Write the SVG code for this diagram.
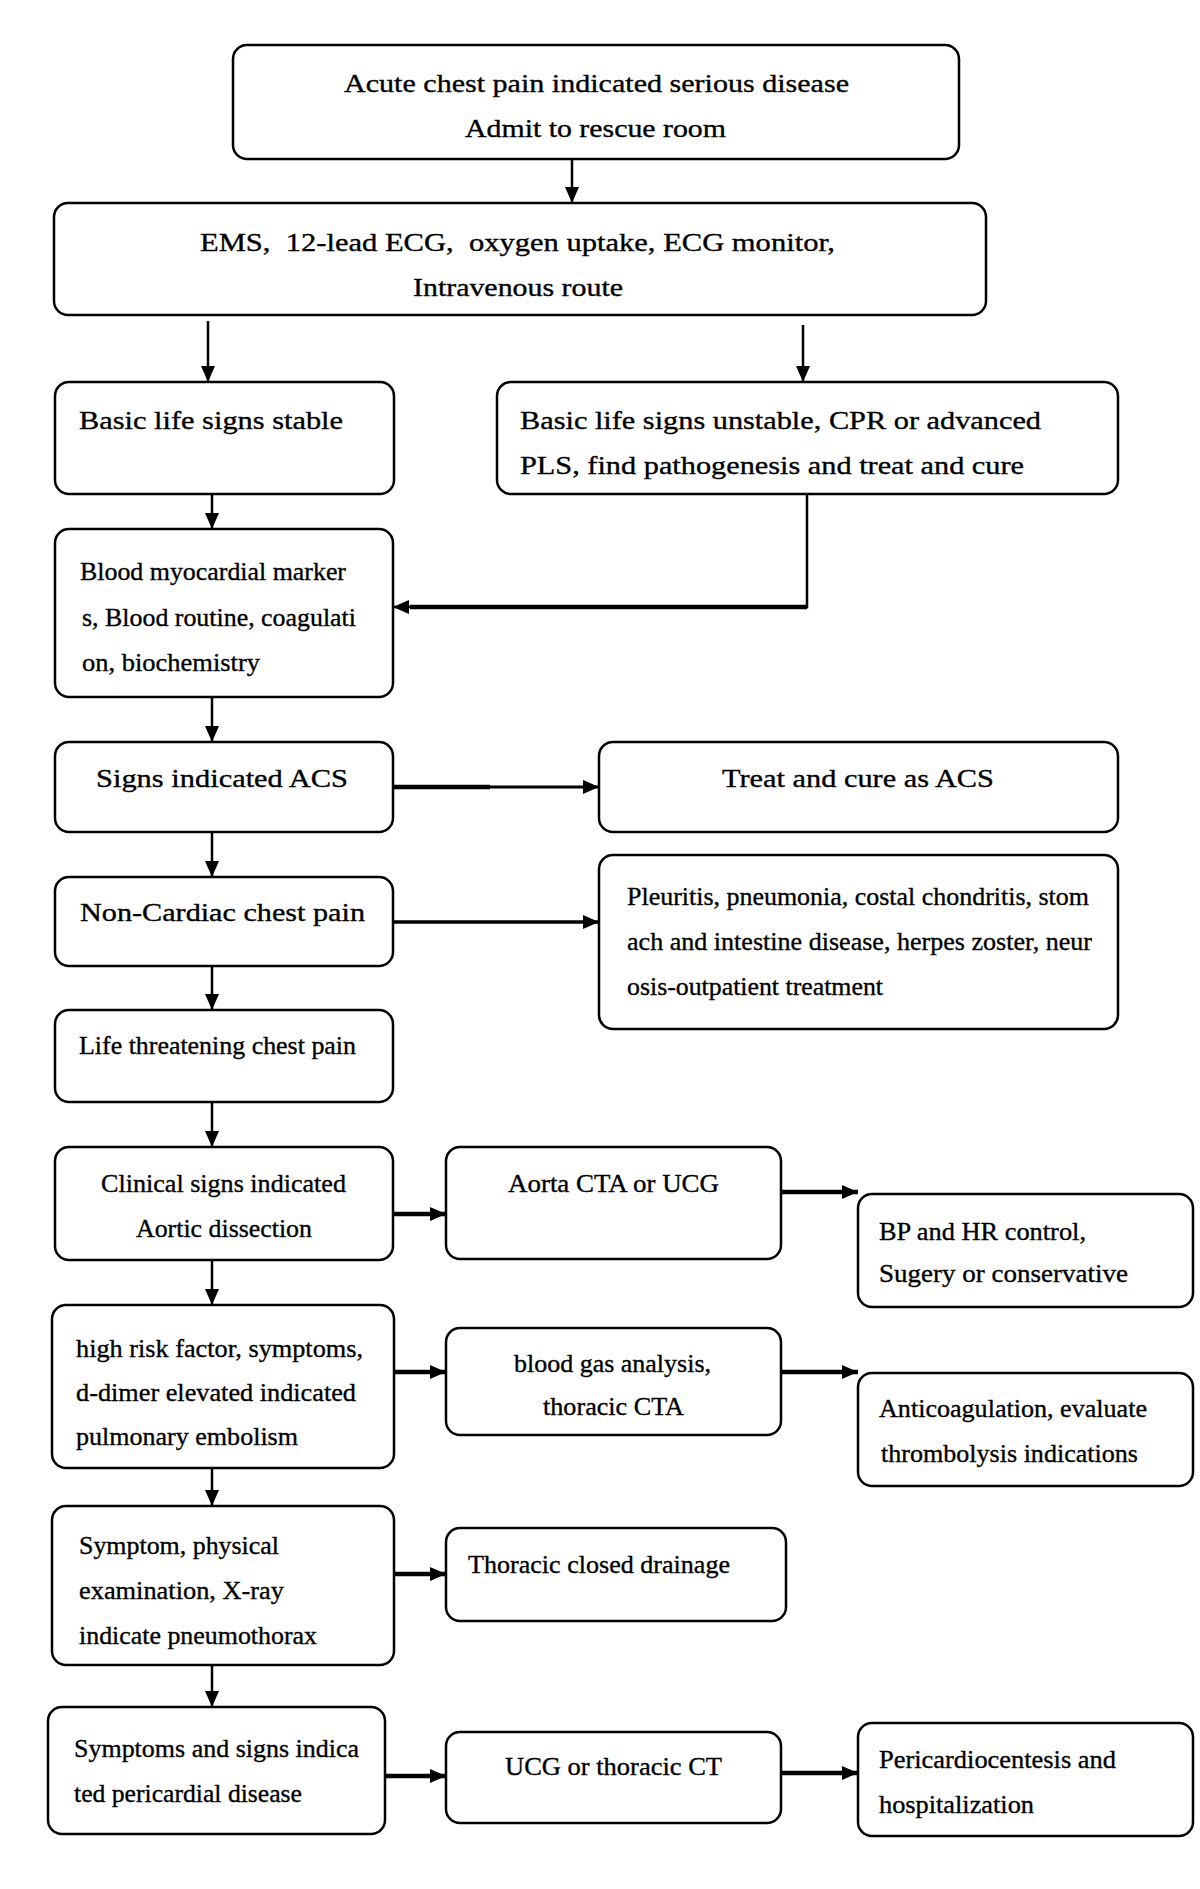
<svg xmlns="http://www.w3.org/2000/svg" width="1200" height="1889" viewBox="0 0 1200 1889">
<style>
.box{fill:#fff;stroke:#000;stroke-width:2.5}
text{font-family:"Liberation Serif","Times New Roman",serif;font-size:26px;fill:#000;stroke:#000;stroke-width:0.35}
.c{text-anchor:middle}
.ln{fill:none;stroke:#000;stroke-width:2.5}
.th{fill:none;stroke:#000;stroke-width:4.5}
</style>
<defs>
<marker id="ah" markerUnits="userSpaceOnUse" markerWidth="16" markerHeight="14" refX="16" refY="7" orient="auto">
<path d="M0,0 L16,7 L0,14 Z" fill="#000"/>
</marker>
</defs>
<rect width="1200" height="1889" fill="#fff"/>
<g id="connectors">
<path class="ln" d="M572,159 V203" marker-end="url(#ah)"/>
<path class="ln" d="M208,321 V382" marker-end="url(#ah)"/>
<path class="ln" d="M803,325 V382" marker-end="url(#ah)"/>
<path class="ln" d="M212,494 V529" marker-end="url(#ah)"/>
<path class="ln" d="M807,494 V607 H393" marker-end="url(#ah)"/>
<path class="th" d="M807,607 H410"/>
<path class="ln" d="M212,697 V742" marker-end="url(#ah)"/>
<path class="th" d="M393,787 H599" marker-end="url(#ah)" style="stroke-width:3"/>
<path class="th" d="M393,787 H490"/>
<path class="ln" d="M212,832 V877" marker-end="url(#ah)"/>
<path class="th" d="M393,922 H599" marker-end="url(#ah)" style="stroke-width:3.5"/>
<path class="ln" d="M212,966 V1010" marker-end="url(#ah)"/>
<path class="ln" d="M212,1102 V1147" marker-end="url(#ah)"/>
<path class="th" d="M393,1214 H446" marker-end="url(#ah)"/>
<path class="th" d="M781,1192 H858" marker-end="url(#ah)"/>
<path class="ln" d="M212,1260 V1305" marker-end="url(#ah)"/>
<path class="th" d="M394,1372 H446" marker-end="url(#ah)"/>
<path class="th" d="M781,1372 H858" marker-end="url(#ah)"/>
<path class="ln" d="M212,1468 V1506" marker-end="url(#ah)"/>
<path class="th" d="M394,1574 H446" marker-end="url(#ah)"/>
<path class="ln" d="M212,1665 V1707" marker-end="url(#ah)"/>
<path class="th" d="M385,1776 H446" marker-end="url(#ah)"/>
<path class="th" d="M781,1773 H858" marker-end="url(#ah)"/>
</g>
<g id="n1"><rect class="box" x="233" y="45" width="726" height="114" rx="14"/>
<text x="344" y="92" textLength="505" lengthAdjust="spacingAndGlyphs">Acute chest pain indicated serious disease</text>
<text x="465" y="137" textLength="261" lengthAdjust="spacingAndGlyphs">Admit to rescue room</text></g>
<g id="n2"><rect class="box" x="54" y="203" width="932" height="112" rx="14"/>
<text x="200" y="251" textLength="635" lengthAdjust="spacingAndGlyphs" xml:space="preserve">EMS,  12-lead ECG,  oxygen uptake, ECG monitor,</text>
<text x="413" y="296" textLength="210" lengthAdjust="spacingAndGlyphs">Intravenous route</text></g>
<g id="n3"><rect class="box" x="55" y="382" width="339" height="112" rx="14"/>
<text x="79" y="429" textLength="264" lengthAdjust="spacingAndGlyphs">Basic life signs stable</text></g>
<g id="n4"><rect class="box" x="497" y="382" width="621" height="112" rx="14"/>
<text x="520" y="429" textLength="521" lengthAdjust="spacingAndGlyphs">Basic life signs unstable, CPR or advanced</text>
<text x="520" y="474" textLength="504" lengthAdjust="spacingAndGlyphs">PLS, find pathogenesis and treat and cure</text></g>
<g id="n5"><rect class="box" x="55" y="529" width="338" height="168" rx="14"/>
<text x="80" y="580" textLength="266" lengthAdjust="spacingAndGlyphs">Blood myocardial marker</text>
<text x="82" y="626" textLength="274" lengthAdjust="spacingAndGlyphs">s, Blood routine, coagulati</text>
<text x="82" y="671" textLength="178" lengthAdjust="spacingAndGlyphs">on, biochemistry</text></g>
<g id="n6"><rect class="box" x="55" y="742" width="338" height="90" rx="14"/>
<text x="96" y="787" textLength="252" lengthAdjust="spacingAndGlyphs">Signs indicated ACS</text></g>
<g id="n7"><rect class="box" x="599" y="742" width="519" height="90" rx="14"/>
<text x="722" y="787" textLength="272" lengthAdjust="spacingAndGlyphs">Treat and cure as ACS</text></g>
<g id="n8"><rect class="box" x="55" y="877" width="338" height="89" rx="14"/>
<text x="80" y="921" textLength="285" lengthAdjust="spacingAndGlyphs">Non-Cardiac chest pain</text></g>
<g id="n9"><rect class="box" x="599" y="855" width="519" height="174" rx="14"/>
<text x="627" y="905" textLength="462" lengthAdjust="spacingAndGlyphs">Pleuritis, pneumonia, costal chondritis, stom</text>
<text x="627" y="950" textLength="465" lengthAdjust="spacingAndGlyphs">ach and intestine disease, herpes zoster, neur</text>
<text x="627" y="995" textLength="256" lengthAdjust="spacingAndGlyphs">osis-outpatient treatment</text></g>
<g id="n10"><rect class="box" x="55" y="1010" width="338" height="92" rx="14"/>
<text x="79" y="1054" textLength="277" lengthAdjust="spacingAndGlyphs">Life threatening chest pain</text></g>
<g id="n11"><rect class="box" x="55" y="1147" width="338" height="113" rx="14"/>
<text x="101" y="1192" textLength="245" lengthAdjust="spacingAndGlyphs">Clinical signs indicated</text>
<text x="136" y="1237" textLength="176" lengthAdjust="spacingAndGlyphs">Aortic dissection</text></g>
<g id="n12"><rect class="box" x="446" y="1147" width="335" height="112" rx="14"/>
<text x="508" y="1192" textLength="211" lengthAdjust="spacingAndGlyphs">Aorta CTA or UCG</text></g>
<g id="n13"><rect class="box" x="858" y="1194" width="335" height="113" rx="14"/>
<text x="879" y="1240" textLength="207" lengthAdjust="spacingAndGlyphs">BP and HR control,</text>
<text x="879" y="1282" textLength="249" lengthAdjust="spacingAndGlyphs">Sugery or conservative</text></g>
<g id="n14"><rect class="box" x="52" y="1305" width="342" height="163" rx="14"/>
<text x="76" y="1357" textLength="287" lengthAdjust="spacingAndGlyphs">high risk factor, symptoms,</text>
<text x="76" y="1401" textLength="280" lengthAdjust="spacingAndGlyphs">d-dimer elevated indicated</text>
<text x="76" y="1445" textLength="222" lengthAdjust="spacingAndGlyphs">pulmonary embolism</text></g>
<g id="n15"><rect class="box" x="446" y="1328" width="335" height="107" rx="14"/>
<text x="514" y="1372" textLength="197" lengthAdjust="spacingAndGlyphs">blood gas analysis,</text>
<text x="543" y="1415" textLength="141" lengthAdjust="spacingAndGlyphs">thoracic CTA</text></g>
<g id="n16"><rect class="box" x="858" y="1373" width="335" height="113" rx="14"/>
<text x="879" y="1417" textLength="268" lengthAdjust="spacingAndGlyphs">Anticoagulation, evaluate</text>
<text x="881" y="1462" textLength="257" lengthAdjust="spacingAndGlyphs">thrombolysis indications</text></g>
<g id="n17"><rect class="box" x="52" y="1506" width="342" height="159" rx="14"/>
<text x="79" y="1554" textLength="200" lengthAdjust="spacingAndGlyphs">Symptom, physical</text>
<text x="79" y="1599" textLength="205" lengthAdjust="spacingAndGlyphs">examination, X-ray</text>
<text x="79" y="1644" textLength="238" lengthAdjust="spacingAndGlyphs">indicate pneumothorax</text></g>
<g id="n18"><rect class="box" x="446" y="1528" width="340" height="93" rx="14"/>
<text x="468" y="1573" textLength="262" lengthAdjust="spacingAndGlyphs">Thoracic closed drainage</text></g>
<g id="n19"><rect class="box" x="48" y="1707" width="337" height="127" rx="14"/>
<text x="74" y="1757" textLength="285" lengthAdjust="spacingAndGlyphs">Symptoms and signs indica</text>
<text x="74" y="1802" textLength="228" lengthAdjust="spacingAndGlyphs">ted pericardial disease</text></g>
<g id="n20"><rect class="box" x="446" y="1732" width="335" height="91" rx="14"/>
<text x="505" y="1775" textLength="217" lengthAdjust="spacingAndGlyphs">UCG or thoracic CT</text></g>
<g id="n21"><rect class="box" x="858" y="1723" width="335" height="113" rx="14"/>
<text x="879" y="1768" textLength="237" lengthAdjust="spacingAndGlyphs">Pericardiocentesis and</text>
<text x="879" y="1813" textLength="155" lengthAdjust="spacingAndGlyphs">hospitalization</text></g>
</svg>
